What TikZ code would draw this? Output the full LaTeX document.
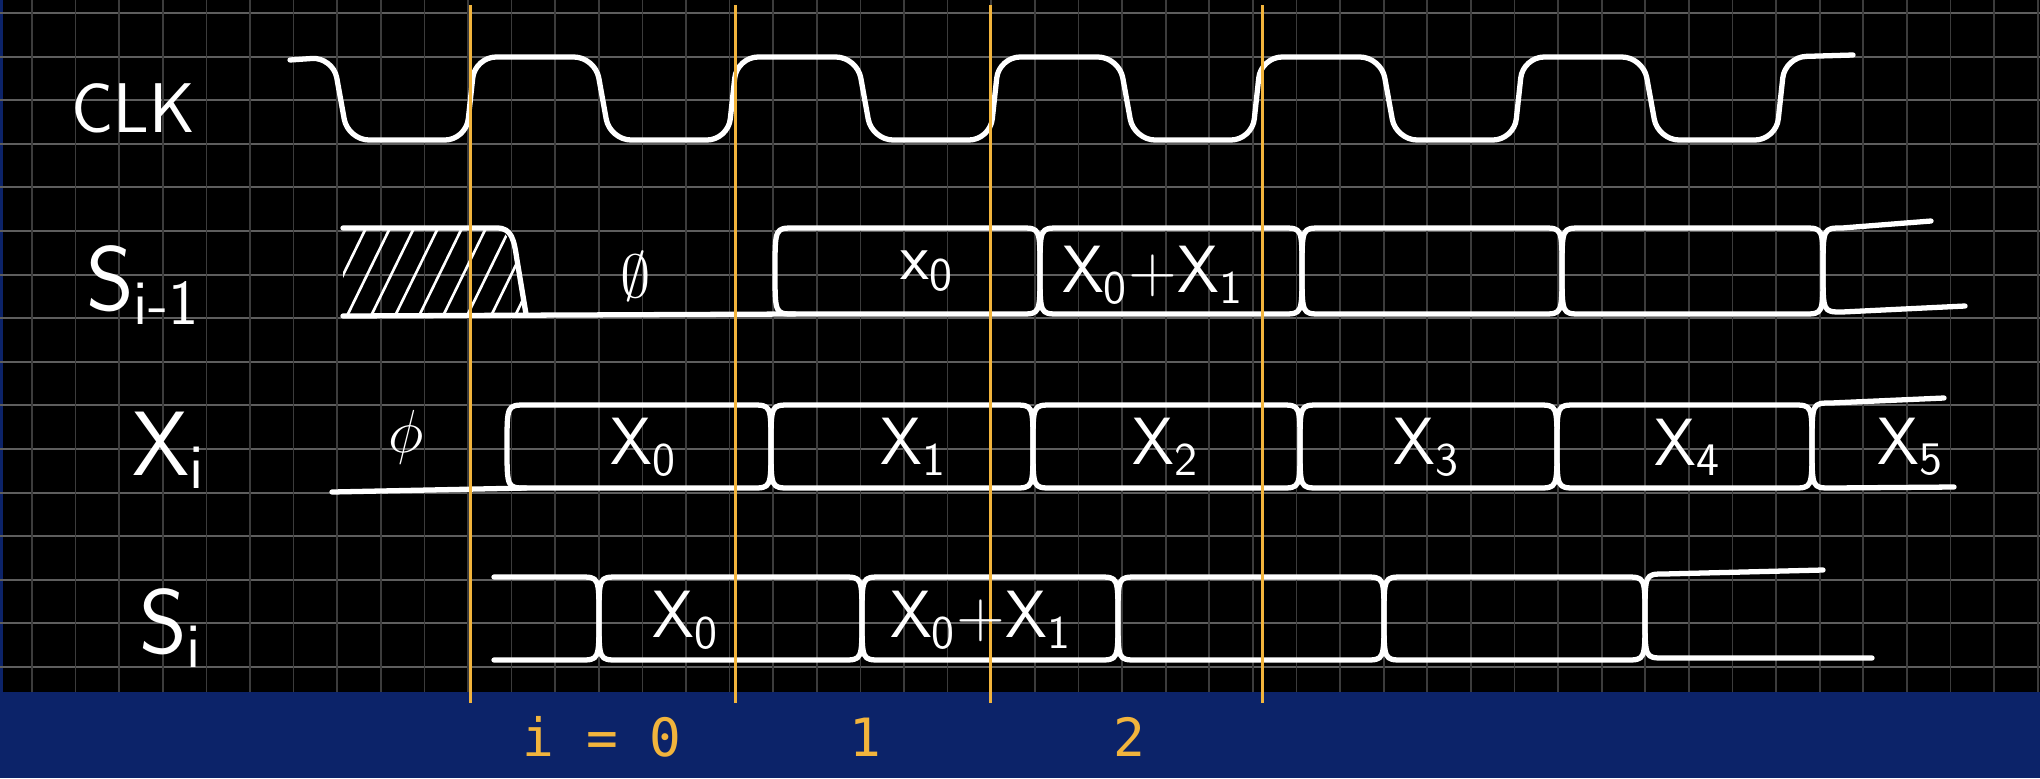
\documentclass[tikz,border=0pt]{standalone}
\usepackage{fontspec}
\setmonofont{DejaVu Sans Mono}
\usepackage{xcolor}
\usepackage{tikz}
\usetikzlibrary{calc}
\definecolor{Y0}{HTML}{F2B43C}
\definecolor{B0}{HTML}{0C2369}
\definecolor{G0}{HTML}{5E5E5E}
\definecolor{G1}{HTML}{3C3C3C}
\tikzstyle{wave} = [draw=white, line width=1.5pt, line cap=round, line join=round]
\tikzstyle{hatch} = [draw=white, line width=0.75pt]
\tikzstyle{gridh} = [draw=G0, line width=0.6pt]
\tikzstyle{gridv} = [draw=G1, line width=0.5pt]
\tikzstyle{edge} = [draw=Y0, line width=0.85pt]
\tikzstyle{hand} = [text=white, inner sep=0pt, font=\sffamily\fontsize{19}{23}\selectfont]
\tikzstyle{row} = [text=white, inner sep=0pt, font=\sffamily\fontsize{26}{30}\selectfont]
\tikzstyle{idx} = [text=Y0, inner sep=0pt, font=\ttfamily\fontsize{15}{18}\selectfont]

\begin{document}
\begin{tikzpicture}[x=0.01cm, y=-0.01cm]
	\useasboundingbox (0,0) rectangle (2040,778) ;
	\fill[black] (0,0) rectangle (2040,692) ;
	\fill[B0] (0,692) rectangle (2040,778) ;
	\fill[B0] (0,0) rectangle (3,692) ;
	
	% graph paper
	\foreach \k in {0, 1, ..., 15}
	{
		\draw[gridh] (0,{13+43.6*\k}) -- (2040,{13+43.6*\k}) ;
	}
	\foreach \k in {0, 1, ..., 46}
	{
		\draw[gridv] ({32+43.6*\k},0) -- ({32+43.6*\k},692) ;
	}
	
	% CLK
	\draw[wave, rounded corners=6] (290,60) foreach \k in {0, 1, ..., 5} { -- ({333+262*\k},57) -- ({348+262*\k},140) -- ({466+262*\k},140) -- ({475+262*\k},57) } -- (1853,55) ;
	
	% S_{i-1}
	\begin{scope}
		\clip (343,228) -- (500,228) -- (514,245) -- (526,314) -- (343,314) -- cycle ;
		\foreach \h in {0, 1, ..., 8}
		{
			\draw[hatch] ({322+24*\h},318) -- ++(44,-90) ;
		}
	\end{scope}
	\draw[wave] (343,228) -- (497,228) .. controls (512,228) and (514,240) .. (517,260) -- (526,314) ;
	\draw[wave] (343,316) -- (795,314) ;
	\foreach \xa/\xb in {775/1040, 1040/1302, 1302/1562, 1562/1823}
	{
		\draw[wave] (\xa,271) .. controls (\xa,228) .. ({\xa+19},228) -- ({\xb-19},228) .. controls (\xb,228) .. (\xb,271) .. controls (\xb,314) .. ({\xb-19},314) -- ({\xa+19},314) .. controls (\xa,314) .. (\xa,271) ;
	}
	\draw[wave] (1931,221) -- (1842,228) .. controls (1823,228) .. (1823,271) .. controls (1823,312) .. (1842,312) -- (1965,306) ;
	
	% X_i
	\draw[wave] (332,492) -- (526,488) ;
	\foreach \xa/\xb in {507/771, 771/1033, 1033/1300, 1300/1557, 1557/1812}
	{
		\draw[wave] (\xa,446) .. controls (\xa,405) .. ({\xa+19},405) -- ({\xb-19},405) .. controls (\xb,405) .. (\xb,446) .. controls (\xb,488) .. ({\xb-19},488) -- ({\xa+19},488) .. controls (\xa,488) .. (\xa,446) ;
	}
	\draw[wave] (1944,398) -- (1831,403) .. controls (1812,403) .. (1812,446) .. controls (1812,488) .. (1831,488) -- (1954,487) ;
	
	% S_i
	\draw[wave] (494,577) -- (580,577) .. controls (599,577) .. (599,618) .. controls (599,660) .. (580,660) -- (494,660) ;
	\foreach \xa/\xb in {599/862, 862/1118, 1118/1384, 1384/1645}
	{
		\draw[wave] (\xa,618) .. controls (\xa,577) .. ({\xa+19},577) -- ({\xb-19},577) .. controls (\xb,577) .. (\xb,618) .. controls (\xb,660) .. ({\xb-19},660) -- ({\xa+19},660) .. controls (\xa,660) .. (\xa,618) ;
	}
	\draw[wave] (1823,570) -- (1664,574) .. controls (1645,574) .. (1645,616) .. controls (1645,658) .. (1664,658) -- (1872,658) ;
	
	% cycle boundaries
	\foreach \t [count=\n] in {470, 735, 990, 1262}
	{
		\coordinate (T\n) at (\t,5) ;
		\coordinate (B\n) at (\t,703) ;
		\draw[edge] (T\n) -- (B\n) ;
	}
	
	\node[row, font=\sffamily\fontsize{20}{24}\selectfont] (clk) at (133,108) {CLK} ;
	\node[row] (sprev) at (143,285) {S\textsubscript{i-1}} ;
	\node[row] (xin) at (169,450) {X\textsubscript{i}} ;
	\node[row] (snow) at (171,628) {S\textsubscript{i}} ;
	
	\node[hand] (sp0) at (636,276) {$\emptyset$} ;
	\node[hand] (sp1) at (927,271) {x\textsubscript{0}} ;
	\node[hand] (sp2) at (1153,275) {X\textsubscript{0}+X\textsubscript{1}} ;
	
	\node[hand] (xe) at (406,437) {$\phi$} ;
	\foreach \p/\n in {644/0, 914/1, 1166/2, 1427/3, 1688/4, 1911/5}
	{
		\node[hand] (x\n) at (\p,447) {X\textsubscript{\n}} ;
	}
	
	\node[hand] (s0) at (686,620) {X\textsubscript{0}} ;
	\node[hand] (s1) at (981,620) {X\textsubscript{0}+X\textsubscript{1}} ;
	
	\node[idx] (i0) at (602,737) {i = 0} ;
	\node[idx] (i1) at (865,737) {1} ;
	\node[idx] (i2) at (1129,737) {2} ;
\end{tikzpicture}
\end{document}
